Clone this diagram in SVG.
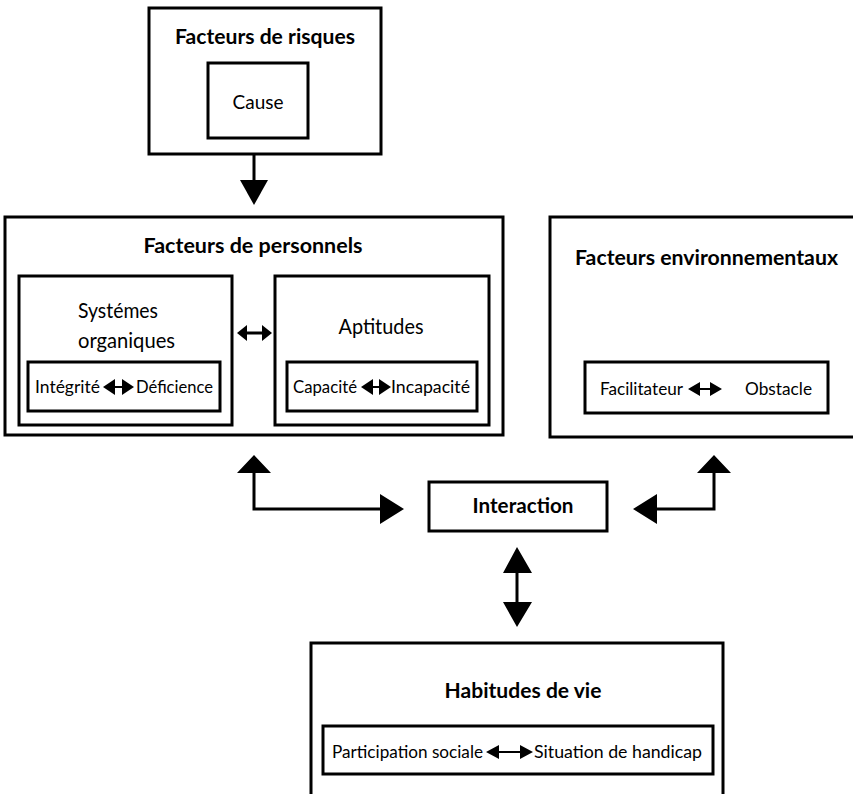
<svg xmlns="http://www.w3.org/2000/svg" width="853" height="794" viewBox="0 0 853 794">
<style>
.box{fill:#fff;stroke:#000;stroke-width:3}
.ln{fill:none;stroke:#000;stroke-width:3}
.thin{fill:none;stroke:#000;stroke-width:2}
.hd{fill:#000}
.t{font-family:Lato,"Open Sans","Liberation Sans",sans-serif;fill:#000}
.b{font-weight:bold;font-size:20px}
.r{font-size:18px}
.m{font-size:21px}
</style>
<rect width="853" height="794" fill="#fff"/>
<g id="risques">
<rect class="box" x="149" y="8" width="232" height="146"/>
<text class="t b" x="265" y="44" text-anchor="middle" textLength="180" lengthAdjust="spacingAndGlyphs">Facteurs de risques</text>
<rect class="box" x="208" y="63" width="100" height="75"/>
<text class="t m" x="258" y="109" text-anchor="middle" textLength="51" lengthAdjust="spacingAndGlyphs" style="font-size:19px">Cause</text>
</g>
<g id="personnels">
<rect class="box" x="5" y="217" width="498" height="218"/>
<text class="t b" x="253" y="253" text-anchor="middle" textLength="219" lengthAdjust="spacingAndGlyphs">Facteurs de personnels</text>
<g id="systemes">
<rect class="box" x="19" y="276" width="213" height="149"/>
<text class="t m" x="78" y="318" textLength="80" lengthAdjust="spacingAndGlyphs">Systémes</text>
<text class="t m" x="78" y="348" textLength="97" lengthAdjust="spacingAndGlyphs">organiques</text>
<rect class="box" x="28" y="362" width="192" height="49"/>
<text class="t r" x="35" y="393" textLength="65" lengthAdjust="spacingAndGlyphs">Intégrité</text>
<text class="t r" x="136" y="393" textLength="77" lengthAdjust="spacingAndGlyphs">Déficience</text>
<path class="thin" d="M112 387H124"/>
<path class="hd" d="M103 387L115 379V395Z M134 387L122 379V395Z"/>
</g>
<g id="aptitudes">
<rect class="box" x="275" y="276" width="214" height="149"/>
<text class="t m" x="381" y="334" text-anchor="middle" textLength="85" lengthAdjust="spacingAndGlyphs">Aptitudes</text>
<rect class="box" x="287" y="362" width="190" height="49"/>
<text class="t r" x="293" y="393" textLength="64" lengthAdjust="spacingAndGlyphs">Capacité</text>
<text class="t r" x="391" y="393" textLength="79" lengthAdjust="spacingAndGlyphs">Incapacité</text>
<path class="thin" d="M370 387H382"/>
<path class="hd" d="M361 387L373 379V395Z M391 387L379 379V395Z"/>
</g>
</g>
<g id="environnementaux">
<rect class="box" x="550" y="217" width="305" height="220"/>
<text class="t b" x="575" y="265" textLength="263" lengthAdjust="spacingAndGlyphs">Facteurs environnementaux</text>
<rect class="box" x="585" y="362" width="243" height="51"/>
<text class="t r" x="600" y="395" textLength="83" lengthAdjust="spacingAndGlyphs">Facilitateur</text>
<text class="t r" x="745" y="395" textLength="67" lengthAdjust="spacingAndGlyphs">Obstacle</text>
<path class="thin" d="M698 389H712"/>
<path class="hd" d="M688 389L700 382V396Z M722 389L710 382V396Z"/>
</g>
<g id="interaction">
<rect class="box" x="429" y="482" width="178" height="49"/>
<text class="t b" x="523" y="513" text-anchor="middle" textLength="101" lengthAdjust="spacingAndGlyphs">Interaction</text>
</g>
<g id="habitudes">
<rect class="box" x="311" y="643" width="412" height="160"/>
<text class="t b" x="523" y="698" text-anchor="middle" textLength="157" lengthAdjust="spacingAndGlyphs">Habitudes de vie</text>
<rect class="box" x="323" y="726" width="390" height="48"/>
<text class="t r" x="332" y="758" textLength="151" lengthAdjust="spacingAndGlyphs">Participation sociale</text>
<text class="t r" x="534" y="758" textLength="168" lengthAdjust="spacingAndGlyphs">Situation de handicap</text>
<path class="thin" d="M497 752H521"/>
<path class="hd" d="M486 752L499 745V759Z M533 752L520 745V759Z"/>
</g>
<g id="connectors">
<path class="ln" d="M254 154V182"/>
<path class="hd" d="M240 180H268L254 205Z"/>
<path class="ln" d="M244 333H265"/>
<path class="hd" d="M237 333L247 325V341Z M272 333L262 325V341Z"/>
<path class="ln" d="M254 472V509H382"/>
<path class="hd" d="M254 455L271 473H237Z M404 509L380 494V524Z"/>
<path class="ln" d="M714 472V509H656"/>
<path class="hd" d="M714 455L731 473H697Z M633 509L657 494V524Z"/>
<path class="ln" d="M517 572V603"/>
<path class="hd" d="M517 547L532 573H503Z M517 627L532 602H503Z"/>
</g>
</svg>
